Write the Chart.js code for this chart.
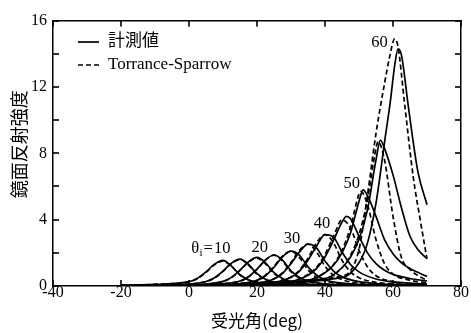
<!DOCTYPE html>
<html>
<head>
<meta charset="utf-8">
<script src="https://cdn.jsdelivr.net/npm/chart.js@4.4.1/dist/chart.umd.min.js"></script>
<style>
  html, body { margin: 0; padding: 0; background: #fff; }
</style>
</head>
<body>
<canvas id="chart" width="471" height="333"></canvas>
<script>
// Specular reflection vs. receiving angle, measured (solid) and Torrance-Sparrow (dashed)

const incidence = [10, 15, 20, 25, 30, 35, 40, 45, 50, 55, 60];

// [receiving angle (deg), intensity]
const meas10 = [[-20,0.04],[-10,0.1],[0,0.26],[2.5,0.47],[5,0.85],[7.5,1.32],[10,1.55],[12.5,1.2],[15,0.68],[17.5,0.38],[20,0.22],[25,0.1],[30,0.06],[40,0.04],[70,0.02]];
const ts10   = [[-20,0.04],[-10,0.1],[0,0.25],[2.5,0.45],[5,0.82],[7.5,1.28],[10,1.5],[12.5,1.18],[15,0.66],[17.5,0.36],[20,0.2],[25,0.09],[30,0.05],[40,0.03],[70,0.02]];
const meas15 = [[-20,0.03],[0,0.12],[5,0.27],[7.5,0.5],[10,0.9],[12.5,1.38],[15,1.62],[17.5,1.3],[20,0.74],[22.5,0.41],[25,0.24],[30,0.1],[35,0.06],[45,0.04],[70,0.02]];
const ts15   = [[-20,0.03],[0,0.11],[5,0.26],[7.5,0.48],[10,0.88],[12.5,1.36],[15,1.6],[17.5,1.26],[20,0.7],[22.5,0.38],[25,0.22],[30,0.09],[35,0.05],[45,0.03],[70,0.02]];
const meas20 = [[-20,0.02],[0,0.07],[10,0.28],[12.5,0.52],[15,0.95],[17.5,1.46],[20,1.72],[22.5,1.4],[25,0.8],[27.5,0.45],[30,0.26],[35,0.11],[40,0.07],[50,0.04],[70,0.02]];
const ts20   = [[-20,0.02],[0,0.07],[10,0.27],[12.5,0.51],[15,0.94],[17.5,1.44],[20,1.68],[22.5,1.34],[25,0.76],[27.5,0.41],[30,0.23],[35,0.1],[40,0.05],[50,0.03],[70,0.02]];
const meas25 = [[-20,0.02],[0,0.05],[10,0.14],[15,0.3],[17.5,0.56],[20,1.02],[22.5,1.58],[25,1.87],[27.5,1.56],[30,0.92],[32.5,0.52],[35,0.3],[40,0.13],[45,0.08],[55,0.05],[70,0.03]];
const ts25   = [[-20,0.02],[0,0.05],[10,0.13],[15,0.29],[17.5,0.55],[20,1.0],[22.5,1.56],[25,1.86],[27.5,1.5],[30,0.86],[32.5,0.47],[35,0.27],[40,0.11],[45,0.06],[55,0.03],[70,0.02]];
const meas30 = [[-20,0.02],[0,0.04],[15,0.15],[20,0.34],[22.5,0.62],[25,1.13],[27.5,1.75],[30,2.1],[32.5,1.85],[35,1.15],[37.5,0.66],[40,0.38],[45,0.17],[50,0.1],[60,0.06],[70,0.04]];
const ts30   = [[-20,0.02],[0,0.04],[15,0.15],[20,0.35],[22.5,0.65],[25,1.18],[27.5,1.8],[30,2.1],[32.5,1.7],[35,0.98],[37.5,0.53],[40,0.3],[45,0.12],[50,0.07],[60,0.04],[70,0.03]];
const meas35 = [[-20,0.02],[0,0.03],[20,0.18],[25,0.42],[27.5,0.75],[30,1.35],[32.5,2.05],[35,2.52],[37.5,2.3],[40,1.5],[42.5,0.9],[45,0.55],[50,0.26],[55,0.15],[60,0.1],[70,0.06]];
const ts35   = [[-20,0.02],[0,0.03],[20,0.18],[25,0.44],[27.5,0.8],[30,1.42],[32.5,2.15],[35,2.52],[37.5,2.05],[40,1.2],[42.5,0.65],[45,0.38],[50,0.16],[55,0.09],[60,0.06],[70,0.04]];
const meas40 = [[-20,0.01],[0,0.03],[25,0.22],[30,0.52],[32.5,0.9],[35,1.55],[37.5,2.4],[40,3.1],[42.5,2.95],[45,2.05],[47.5,1.3],[50,0.85],[55,0.42],[60,0.25],[65,0.17],[70,0.12]];
const ts40   = [[-20,0.01],[0,0.03],[25,0.22],[30,0.55],[32.5,0.96],[35,1.68],[37.5,2.6],[40,3.1],[42.5,2.6],[45,1.55],[47.5,0.85],[50,0.5],[55,0.22],[60,0.12],[65,0.08],[70,0.06]];
const meas45 = [[-20,0.01],[0,0.02],[30,0.28],[35,0.65],[37.5,1.05],[40,1.75],[42.5,2.75],[45,3.85],[46.3,4.2],[47.5,4.05],[50,3.0],[52.5,2.0],[55,1.35],[57.5,0.95],[60,0.7],[65,0.45],[70,0.3]];
const ts45   = [[-20,0.01],[0,0.02],[30,0.28],[35,0.7],[37.5,1.12],[40,1.9],[42.5,3.0],[45,3.98],[47.5,3.5],[50,2.15],[52.5,1.15],[55,0.62],[60,0.26],[65,0.15],[70,0.1]];
const meas50 = [[-20,0.01],[0,0.02],[35,0.35],[40,0.8],[42.5,1.25],[45,2.0],[47.5,3.2],[50,5.1],[51.2,5.8],[52.5,5.45],[55,4.2],[57.5,2.8],[60,1.95],[62.5,1.4],[65,1.05],[70,0.58]];
const ts50   = [[-20,0.01],[0,0.02],[35,0.35],[40,0.82],[42.5,1.3],[45,2.15],[47.5,3.55],[50,5.55],[50.5,5.7],[52.5,4.9],[55,2.8],[57.5,1.35],[60,0.72],[65,0.35],[70,0.2]];
const meas55 = [[-20,0.01],[0,0.02],[40,0.45],[45,1.1],[47.5,1.75],[50,2.8],[52.5,4.6],[55,7.6],[56.3,8.8],[57.5,8.3],[60,6.7],[62.5,4.7],[65,3.0],[67.5,2.15],[70,1.65]];
const ts55   = [[-20,0.01],[0,0.02],[40,0.45],[45,1.1],[47.5,1.85],[50,3.1],[52.5,5.2],[55,8.3],[55.6,8.7],[57.5,7.6],[60,4.2],[62.5,1.7],[65,1.0],[67.5,0.6],[70,0.35]];
const meas60 = [[-20,0.01],[0,0.02],[45,0.5],[50,1.4],[52.5,2.6],[55,5.0],[57.6,8.8],[59.2,11.1],[60.5,13.3],[61.5,14.3],[62.5,13.9],[64.4,11],[66,8.6],[67.4,6.8],[70,4.9]];
const ts60   = [[-20,0.01],[0,0.02],[45,0.6],[50,2.2],[52.5,5.5],[55,9.2],[57.5,12.2],[59,13.8],[60.5,14.9],[61.5,14.4],[63.4,11],[66,6.5],[68,4.0],[70,1.63]];

const measured = [meas10, meas15, meas20, meas25, meas30, meas35, meas40, meas45, meas50, meas55, meas60];
const torrance = [ts10, ts15, ts20, ts25, ts30, ts35, ts40, ts45, ts50, ts55, ts60];

// axis ticks
const xTicks = [-40, -20, 0, 20, 40, 60, 80];
const yTicks = [0, 2, 4, 6, 8, 10, 12, 14, 16];

// incidence-angle labels: text, anchor angle, anchor intensity
const labelText = ['10', '20', '30', '40', '50', '60'];
const labelX = [9.75, 20.8, 30.3, 39.1, 47.85, 56.0];
const labelY = [2.24, 2.3, 2.83, 3.75, 6.17, 14.67];

const SERIF = "'Liberation Serif', 'Times New Roman', serif";
const CJK = "'Noto Sans CJK JP', sans-serif";

function toXY(pts) {
  return pts.map(p => ({ x: p[0], y: p[1] }));
}

const datasets = [];
incidence.forEach((a, i) => {
  datasets.push({
    label: 'meas ' + a,
    data: toXY(measured[i]),
    borderColor: '#000', borderWidth: 1.7,
    pointRadius: 0, cubicInterpolationMode: 'monotone', fill: false
  });
  datasets.push({
    label: 'TS ' + a,
    data: toXY(torrance[i]),
    borderColor: '#000', borderWidth: 1.7, borderDash: [5, 3],
    pointRadius: 0, cubicInterpolationMode: 'monotone', fill: false
  });
});

const overlay = {
  id: 'overlay',
  afterDraw(chart) {
    const { ctx, chartArea: area, scales: { x, y } } = chart;
    ctx.save();
    ctx.strokeStyle = '#000';
    ctx.fillStyle = '#000';

    // tick marks pointing into the plot on all four sides
    const L = 6, W = 1.6;
    xTicks.forEach(v => {
      const p = Math.round(x.getPixelForValue(v));
      ctx.fillRect(p - W / 2, area.bottom - L, W, L);
      ctx.fillRect(p - W / 2, area.top, W, L);
    });
    yTicks.forEach(v => {
      const p = Math.round(y.getPixelForValue(v));
      ctx.fillRect(area.left, p - W / 2, L, W);
      ctx.fillRect(area.right - L, p - W / 2, L, W);
    });

    // legend
    const seg = (x1, y1, x2, y2) => { ctx.beginPath(); ctx.moveTo(x1, y1); ctx.lineTo(x2, y2); ctx.stroke(); };
    ctx.lineWidth = 1.7;
    seg(78, 42, 99, 42);
    ctx.setLineDash([5, 3]);
    seg(78, 65, 99, 65);
    ctx.setLineDash([]);
    ctx.textBaseline = 'middle';
    ctx.textAlign = 'left';
    ctx.font = '17px ' + CJK;
    ctx.fillText('計測値', 108, 40);
    ctx.font = '17px ' + SERIF;
    ctx.fillText('Torrance-Sparrow', 108, 65);

    // incidence labels
    ctx.font = '16.5px ' + SERIF;
    ctx.textAlign = 'center';
    labelText.forEach((t, i) => {
      const px = x.getPixelForValue(labelX[i]);
      const py = y.getPixelForValue(labelY[i]);
      ctx.fillText(t, px, py);
      if (i === 0) {
        const left = px - ctx.measureText(t).width / 2;
        ctx.textAlign = 'right';
        ctx.fillText('=', left - 1, py);
        const eqW = ctx.measureText('=').width;
        ctx.font = '11px ' + SERIF;
        ctx.fillText('i', left - eqW - 2, py + 4);
        const iW = ctx.measureText('i').width;
        ctx.font = '16.5px ' + SERIF;
        ctx.fillText('θ', left - eqW - iW - 2.5, py);
        ctx.textAlign = 'center';
      }
    });
    ctx.restore();
  }
};

const axisLine = { display: true, color: '#000', width: 1.5 };
const noGrid = { display: false, drawOnChartArea: false, drawTicks: true, tickLength: -5 };

new Chart(document.getElementById('chart'), {
  type: 'line',
  data: { datasets },
  options: {
    responsive: false,
    animation: false,
    events: [],
    layout: { padding: { left: 0, right: 9, top: 15, bottom: 0 } },
    plugins: { legend: { display: false }, tooltip: { enabled: false } },
    scales: {
      x: {
        type: 'linear', position: 'bottom', min: -40, max: 80,
        border: axisLine, grid: noGrid,
        ticks: { stepSize: 20, color: '#000', padding: 2, maxRotation: 0, font: { family: SERIF, size: 16 } },
        title: { display: true, text: '受光角(deg)', color: '#000', padding: { top: 0, bottom: 2 }, font: { family: CJK, size: 17 } },
        afterFit(s) { s.height = 47; }
      },
      x2: {
        type: 'linear', position: 'top', min: -40, max: 80, display: true,
        border: axisLine, grid: noGrid,
        ticks: { stepSize: 20, display: false },
        afterFit(s) { s.height = 0; }
      },
      y: {
        type: 'linear', position: 'left', min: 0, max: 16,
        border: axisLine, grid: noGrid,
        ticks: { stepSize: 2, color: '#000', padding: 11, font: { family: SERIF, size: 16 },
          callback: v => (v % 4 === 0 ? v : '') },
        title: { display: true, text: '\u3000鏡面反射強度', color: '#000', padding: { top: 8, bottom: 0 }, font: { family: CJK, size: 18 } },
        afterFit(s) { s.width = 53; }
      },
      y2: {
        type: 'linear', position: 'right', min: 0, max: 16, display: true,
        border: axisLine, grid: noGrid,
        ticks: { stepSize: 2, display: false },
        afterFit(s) { s.width = 0; }
      }
    }
  },
  plugins: [overlay]
});
</script>
</body>
</html>
